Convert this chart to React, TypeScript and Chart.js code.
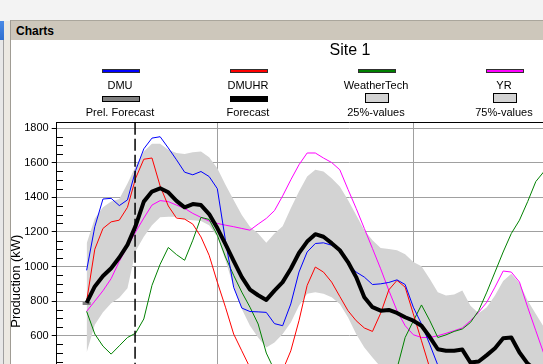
import { useEffect, useRef } from 'react';
import { Chart, registerables } from 'chart.js';

Chart.register(...registerables);

// Hours counted from midnight of the first day (24 = next midnight, 48 = the one after)
const hours = [8, 9, 10, 11, 12, 13, 14, 15, 16, 17, 18, 19, 20, 21, 22, 23, 24, 25, 26, 27, 28, 29, 30, 31, 32, 33, 34, 35, 36, 37, 38, 39, 40, 41, 42, 43, 44, 45, 46, 47, 48, 49, 50, 51, 52, 53, 54, 55, 56, 57, 58, 59, 60, 61, 62, 63, 64];

const dmu = [978, 1230, 1390, 1394, 1352, 1385, 1555, 1680, 1742, 1750, 1685, 1617, 1545, 1530, 1549, 1520, 1450, 1150, 880, 760, 740, 738, 735, 670, 658, 784, 968, 1084, 1133, 1137, 1123, 1094, 1017, 968, 939, 896, 900, 908, 923, 896, 765, 668, 552, 430, 380, 350, 330, 320, 310, 320, 340, 360, 380, 370, 350, 330, 320];
const dmuhr = [800, 1100, 1220, 1258, 1268, 1342, 1510, 1620, 1627, 1465, 1350, 1280, 1274, 1245, 1171, 1065, 910, 765, 610, 513, 416, 350, 320, 330, 400, 513, 687, 891, 997, 968, 910, 827, 745, 687, 645, 625, 730, 865, 920, 881, 726, 571, 416, 350, 300, 280, 270, 260, 260, 270, 280, 290, 300, 290, 280, 270, 260];
const weatherTech = [741, 610, 540, 494, 542, 590, 615, 697, 891, 1013, 1110, 1069, 1036, 1152, 1284, 1272, 1181, 1055, 949, 852, 765, 668, 500, 400, 330, 280, 250, 230, 220, 220, 230, 240, 250, 270, 280, 300, 330, 380, 410, 590, 685, 778, 689, 590, 605, 625, 639, 677, 745, 852, 968, 1084, 1191, 1268, 1375, 1491, 1549];
const yr = [741, 800, 860, 930, 1030, 1115, 1200, 1280, 1355, 1381, 1375, 1355, 1336, 1307, 1284, 1263, 1249, 1239, 1230, 1220, 1210, 1245, 1278, 1323, 1408, 1501, 1588, 1656, 1656, 1627, 1601, 1559, 1446, 1336, 1220, 1104, 987, 862, 745, 658, 606, 590, 590, 600, 614, 629, 645, 687, 736, 794, 881, 974, 968, 910, 765, 629, 494];
const forecast = [790, 885, 945, 990, 1052, 1125, 1235, 1375, 1433, 1452, 1429, 1379, 1342, 1361, 1355, 1303, 1222, 1129, 1032, 939, 867, 834, 807, 861, 910, 987, 1078, 1144, 1187, 1172, 1135, 1094, 1026, 939, 823, 765, 745, 749, 732, 707, 687, 658, 594, 522, 513, 513, 520, 445, 451, 488, 528, 586, 590, 503, 439, 400, 380];
const prelForecastHours = [8];
const prelForecast = [786];
const values25 = [503, 664, 736, 788, 819, 875, 1090, 1172, 1239, 1284, 1288, 1288, 1272, 1268, 1263, 1239, 1172, 1036, 881, 755, 658, 590, 532, 561, 610, 677, 774, 842, 852, 842, 823, 784, 707, 610, 532, 474, 420, 400, 380, 360, 350, 340, 330, 320, 310, 300, 300, 290, 280, 290, 300, 320, 330, 320, 300, 280, 270];
const values75 = [1133, 1278, 1342, 1375, 1390, 1480, 1580, 1665, 1710, 1710, 1675, 1656, 1650, 1660, 1665, 1632, 1568, 1472, 1384, 1297, 1230, 1191, 1137, 1191, 1233, 1336, 1433, 1520, 1559, 1549, 1510, 1462, 1384, 1297, 1210, 1152, 1107, 1101, 1094, 1071, 1026, 1001, 929, 852, 832, 838, 861, 774, 730, 765, 832, 916, 958, 904, 803, 726, 649];

const NOW_HOUR = 13.93;
const X_MIN = 4.335;
const X_MAX = 76;
const xGridHours = [24, 48, 72];
const Y_MIN = 0;
const Y_MAX = 1831;
const yTickValues = [0, 200, 400, 600, 800, 1000, 1200, 1400, 1600, 1800];
const yMinorTickValues = [50, 100, 150, 250, 300, 350, 450, 500, 550, 650, 700, 750, 850, 900, 950, 1050, 1100, 1150, 1250, 1300, 1350, 1450, 1500, 1550, 1650, 1700, 1750];

const FONT = "'Liberation Sans', Arial, Helvetica, sans-serif";

type LegendItem = { label: string; color: string; kind: 'line' | 'bar' | 'box' };
const legendRow1: LegendItem[] = [
  { label: 'DMU', color: '#0000ff', kind: 'line' },
  { label: 'DMUHR', color: '#ff0000', kind: 'line' },
  { label: 'WeatherTech', color: '#008000', kind: 'line' },
  { label: 'YR', color: '#ff00ff', kind: 'line' },
];
const legendRow2: LegendItem[] = [
  { label: 'Prel. Forecast', color: '#808080', kind: 'bar' },
  { label: 'Forecast', color: '#000000', kind: 'bar' },
  { label: '25%-values', color: '#d3d3d3', kind: 'box' },
  { label: '75%-values', color: '#d3d3d3', kind: 'box' },
];
const legendCenters = [121, 249, 377, 505];

const framePlugin = {
  id: 'frame',
  afterDatasetsDraw(chart: any) {
    const { ctx, chartArea: a, scales } = chart;
    const xs = scales.x;
    const ys = scales.y;
    ctx.save();
    ctx.strokeStyle = '#000';
    ctx.lineWidth = 1;
    ctx.beginPath();
    const lx = Math.round(a.left);
    for (const v of yMinorTickValues) {
      const y = Math.round(ys.getPixelForValue(v)) + 0.5;
      ctx.moveTo(lx, y);
      ctx.lineTo(lx + 6, y);
    }
    const ty = Math.floor(a.top) + 0.5;
    ctx.moveTo(a.left, ty);
    ctx.lineTo(a.right, ty);
    ctx.stroke();
    const nx = xs.getPixelForValue(NOW_HOUR);
    ctx.setLineDash([12, 4]);
    ctx.lineWidth = 1.5;
    ctx.beginPath();
    ctx.moveTo(nx, a.top);
    ctx.lineTo(nx, a.bottom);
    ctx.stroke();
    ctx.restore();
  },
};

function Sample({ item, cx }: { item: LegendItem; cx: number }) {
  if (item.kind === 'line') {
    return (
      <div style={{ position: 'absolute', left: cx - 19, top: 69, width: 36, height: 2, background: item.color, border: '1px solid #303030' }} />
    );
  }
  if (item.kind === 'bar') {
    return (
      <div style={{ position: 'absolute', left: cx - 19, top: 96, width: 36, height: 4, background: item.color, border: '1px solid #000' }} />
    );
  }
  return (
    <div style={{ position: 'absolute', left: cx - 12, top: 93, width: 22, height: 8, background: item.color, border: '1px solid #000' }} />
  );
}

export default function App() {
  const ref = useRef<HTMLCanvasElement>(null);

  useEffect(() => {
    const canvas = ref.current;
    if (!canvas) return;
    const pts = (xsArr: number[], arr: number[]) => xsArr.map((h, i) => ({ x: h, y: arr[i] }));
    const line = (label: string, color: string, arr: number[], width: number, order: number) => ({
      label,
      data: pts(hours, arr),
      borderColor: color,
      backgroundColor: color,
      borderWidth: width,
      pointRadius: 0,
      tension: 0,
      fill: false,
      order,
      borderJoinStyle: 'round' as const,
    });
    const chart = new Chart(canvas, {
      type: 'line',
      data: {
        datasets: [
          line('Forecast', '#000000', forecast, 4, 0),
          {
            label: 'Prel. Forecast',
            data: pts(prelForecastHours, prelForecast),
            borderColor: '#808080',
            backgroundColor: '#808080',
            borderWidth: 3,
            pointStyle: 'line',
            pointRadius: 4,
            pointBorderColor: '#808080',
            pointBorderWidth: 3,
            showLine: false,
            order: 1,
          } as any,
          line('DMU', '#0000ff', dmu, 1, 2),
          line('DMUHR', '#ff0000', dmuhr, 1, 2),
          line('WeatherTech', '#008000', weatherTech, 1, 2),
          line('YR', '#ff00ff', yr, 1, 2),
          {
            label: '25%-values',
            data: pts(hours, values25),
            borderWidth: 0,
            borderColor: 'rgba(0,0,0,0)',
            pointRadius: 0,
            tension: 0,
            fill: false,
            order: 5,
          },
          {
            label: '75%-values',
            data: pts(hours, values75),
            borderWidth: 0,
            borderColor: 'rgba(0,0,0,0)',
            backgroundColor: '#d3d3d3',
            pointRadius: 0,
            tension: 0,
            fill: '-1',
            order: 5,
          },
        ],
      },
      options: {
        animation: false,
        responsive: false,
        devicePixelRatio: 1,
        events: [],
        layout: { padding: { top: 82.7, left: 0, right: 9, bottom: 10.4 } },
        plugins: {
          legend: { display: false },
          title: { display: false },
          tooltip: { enabled: false },
        },
        scales: {
          x: {
            type: 'linear',
            min: X_MIN,
            max: X_MAX,
            afterBuildTicks: (s: any) => {
              s.ticks = xGridHours.map((v) => ({ value: v }));
            },
            afterFit: (s: any) => {
              s.height = 30;
            },
            border: { display: false },
            grid: { color: '#a0a0a0', lineWidth: 1, drawTicks: false },
            ticks: { display: false },
          },
          y: {
            type: 'linear',
            min: Y_MIN,
            max: Y_MAX,
            afterBuildTicks: (s: any) => {
              s.ticks = yTickValues.map((v) => ({ value: v }));
            },
            afterFit: (s: any) => {
              s.width = 45.7;
            },
            border: { display: true, color: '#000', width: 1 },
            grid: { color: '#a0a0a0', lineWidth: 1, tickColor: '#000', tickLength: 5, drawTicks: true },
            ticks: {
              autoSkip: false,
              color: '#000',
              padding: 3,
              font: { family: FONT, size: 11 },
              callback: (v: any) => String(v),
            },
            title: {
              display: true,
              text: 'Production (kW)',
              color: '#000',
              font: { family: FONT, size: 13 },
              padding: { top: -2, bottom: 0 },
            },
          },
        },
      },
      plugins: [framePlugin],
    });
    return () => chart.destroy();
  }, []);

  const textStyle = (cx: number, top: number): React.CSSProperties => ({
    position: 'absolute',
    left: cx - 65,
    top,
    width: 128,
    textAlign: 'center',
    fontFamily: FONT,
    fontSize: 11,
    lineHeight: '13px',
    color: '#000',
    whiteSpace: 'nowrap',
  });

  return (
    <div style={{ position: 'fixed', left: 0, top: 0, width: 543, height: 364, overflow: 'hidden', background: '#f3f3f3', fontFamily: FONT }}>
      {/* left window strip */}
      <div style={{ position: 'absolute', left: 0, top: 21, width: 4, height: 19, background: 'linear-gradient(#4a8ae6, #2f6fd0)' }} />
      <div style={{ position: 'absolute', left: 0, top: 40, width: 3, height: 324, background: '#e8e8e8' }} />
      <div style={{ position: 'absolute', left: 3, top: 40, width: 1, height: 324, background: '#a0a0a0' }} />
      <div style={{ position: 'absolute', left: 4, top: 21, width: 6, height: 343, background: '#ece9e2' }} />
      <div style={{ position: 'absolute', left: 10, top: 20, width: 1, height: 344, background: '#a09c94' }} />
      {/* header bar */}
      <div style={{ position: 'absolute', left: 11, top: 20, width: 532, height: 1, background: '#aaa69c' }} />
      <div style={{ position: 'absolute', left: 11, top: 21, width: 532, height: 19, background: '#cdc7bb' }} />
      <div style={{ position: 'absolute', left: 16, top: 22, fontFamily: FONT, fontWeight: 'bold', fontSize: 12, lineHeight: '19px', color: '#000' }}>Charts</div>
      {/* white chart panel */}
      <div style={{ position: 'absolute', left: 11, top: 40, width: 532, height: 324, background: '#ffffff' }} />
      <canvas ref={ref} width={640} height={440} style={{ position: 'absolute', left: 11, top: 40, width: 640, height: 440 }} />
      {/* title */}
      <div style={{ position: 'absolute', left: 250, top: 41.2, width: 200, textAlign: 'center', fontFamily: FONT, fontSize: 16, lineHeight: '18px', color: '#000' }}>Site 1</div>
      {/* legend */}
      {legendRow1.map((it, i) => (
        <div key={'r1' + i}>
          <Sample item={it} cx={legendCenters[i]} />
          <div style={textStyle(legendCenters[i], 79)}>{it.label}</div>
        </div>
      ))}
      {legendRow2.map((it, i) => (
        <div key={'r2' + i}>
          <Sample item={it} cx={legendCenters[i]} />
          <div style={textStyle(legendCenters[i], 106)}>{it.label}</div>
        </div>
      ))}
    </div>
  );
}
